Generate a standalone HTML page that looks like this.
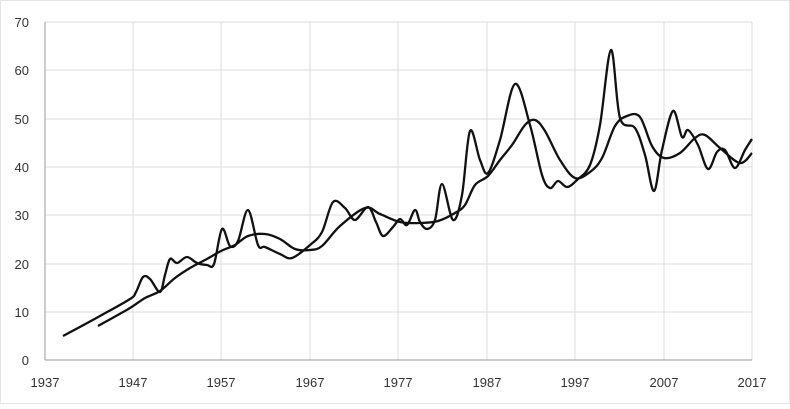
<!DOCTYPE html>
<html><head><meta charset="utf-8"><style>
html,body{margin:0;padding:0;background:#fff;}
svg text{font-family:"Liberation Sans",sans-serif;font-size:13px;fill:#333;}
</style></head><body>
<svg id="s" width="790" height="404" viewBox="0 0 790 404" xmlns="http://www.w3.org/2000/svg">
<rect x="0.5" y="0.5" width="789" height="403" fill="#fff" stroke="#e4e4e4"/>
<g stroke="#dcdcdc" stroke-width="1">
<line x1="45" y1="22" x2="752" y2="22"/><line x1="45" y1="70" x2="752" y2="70"/>
<line x1="45" y1="119" x2="752" y2="119"/><line x1="45" y1="167" x2="752" y2="167"/>
<line x1="45" y1="215" x2="752" y2="215"/><line x1="45" y1="264" x2="752" y2="264"/>
<line x1="45" y1="312" x2="752" y2="312"/>
<line x1="133" y1="22" x2="133" y2="360"/><line x1="221" y1="22" x2="221" y2="360"/>
<line x1="310" y1="22" x2="310" y2="360"/><line x1="398" y1="22" x2="398" y2="360"/>
<line x1="487" y1="22" x2="487" y2="360"/><line x1="575" y1="22" x2="575" y2="360"/>
<line x1="664" y1="22" x2="664" y2="360"/><line x1="752" y1="22" x2="752" y2="360"/>
</g>
<line x1="45" y1="22" x2="45" y2="360" stroke="#999"/>
<line x1="45" y1="360" x2="752" y2="360" stroke="#999"/>
<g text-anchor="end">
<text x="29" y="365">0</text><text x="29" y="317">10</text><text x="29" y="269">20</text>
<text x="29" y="220">30</text><text x="29" y="172">40</text><text x="29" y="124">50</text>
<text x="29" y="75">60</text><text x="29" y="27">70</text>
</g>
<g text-anchor="middle">
<text x="45" y="387">1937</text><text x="133" y="387">1947</text><text x="221" y="387">1957</text>
<text x="310" y="387">1967</text><text x="398" y="387">1977</text><text x="487" y="387">1987</text>
<text x="575" y="387">1997</text><text x="664" y="387">2007</text><text x="752" y="387">2017</text>
</g>
<path id="a" fill="none" stroke="#111" stroke-width="2.3" stroke-linejoin="round"/>
<path id="b" fill="none" stroke="#111" stroke-width="2.3" stroke-linejoin="round"/>
</svg>
<script>
function cr(p){var d="M"+p[0][0]+" "+p[0][1];for(var i=0;i<p.length-1;i++){var p0=p[i-1]||p[i],p1=p[i],p2=p[i+1],p3=p[i+2]||p2;var t=6;d+=" C"+(p1[0]+(p2[0]-p0[0])/t).toFixed(1)+" "+(p1[1]+(p2[1]-p0[1])/t).toFixed(1)+" "+(p2[0]-(p3[0]-p1[0])/t).toFixed(1)+" "+(p2[1]-(p3[1]-p1[1])/t).toFixed(1)+" "+p2[0]+" "+p2[1];}return d;}
var A=[[63,336],[100,316],[130,299],[136,292],[143,277],[150,279],[160,292],[165,275],[170,259],[177,263],[187,257],[197,263],[207,265],[214,264],[222,229],[230,246],[238,241],[248,210],[258,245],[265,247],[280,254],[292,258],[310,245],[322,232],[333,202],[345,208],[355,220],[368,207],[376,222],[383,236],[393,227],[400,219],[407,225],[415,210],[420,222],[427,229],[435,220],[442,184],[453,220],[462,195],[470,131],[480,160],[488,173],[500,140],[515,84],[530,125],[542,175],[550,188],[558,181],[567,187],[577,180],[590,165],[600,125],[611,50],[620,118],[635,128],[645,155],[654,191],[662,150],[673,111],[682,137],[688,130],[698,145],[708,169],[717,152],[725,150],[735,168],[745,150],[752,139]];
var B=[[98,326],[130,308],[145,298],[160,291],[175,278],[190,268],[205,260],[221,251],[235,245],[248,236],[265,234],[280,239],[295,249],[310,250],[322,246],[340,226],[365,208],[380,214],[400,222],[420,223],[438,221],[455,213],[465,205],[475,185],[488,176],[500,160],[512,145],[525,125],[535,120],[545,131],[560,160],[575,178],[590,172],[602,158],[615,126],[627,116],[640,117],[652,146],[664,158],[680,153],[695,138],[705,135],[720,148],[740,163],[752,153]];
document.getElementById("a").setAttribute("d",cr(A));
document.getElementById("b").setAttribute("d",cr(B));
</script>
</body></html>
